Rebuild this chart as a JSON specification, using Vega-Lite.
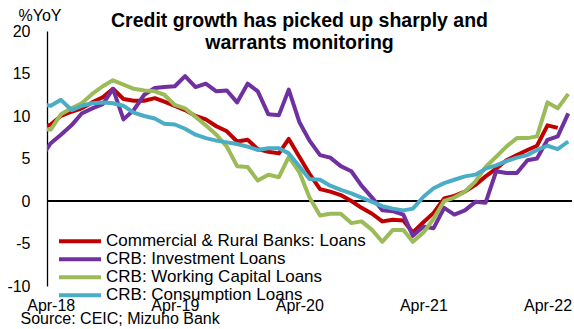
{
  "$schema": "https://vega.github.io/schema/vega-lite/v6.json",
  "width": 525,
  "height": 255,
  "autosize": {"type": "none"},
  "padding": {"left": 47, "top": 31, "right": 2, "bottom": 43},
  "background": "white",
  "config": {
    "font": "Liberation Sans",
    "view": {"stroke": null},
    "axis": {"labelColor": "black", "titleColor": "black", "grid": false}
  },
  "title": {
    "text": ["Credit growth has picked up sharply and", "warrants monitoring"],
    "font": "Liberation Sans",
    "fontSize": 19.5,
    "fontWeight": "bold",
    "color": "black",
    "anchor": "middle",
    "dx": -10,
    "lineHeight": 22,
    "offset": -46
  },
  "data": {
    "values": [
      {"date": "2018-03", "loans": 8.5, "investment": 5.0, "working": 8.4, "consumption": 11.4},
      {"date": "2018-04", "loans": 9.0, "investment": 6.8, "working": 8.4, "consumption": 11.2},
      {"date": "2018-05", "loans": 10.0, "investment": 7.8, "working": 10.2, "consumption": 11.9},
      {"date": "2018-06", "loans": 10.5, "investment": 8.9, "working": 10.9, "consumption": 10.7},
      {"date": "2018-07", "loans": 10.9, "investment": 10.3, "working": 11.5, "consumption": 11.2},
      {"date": "2018-08", "loans": 11.6, "investment": 10.9, "working": 12.6, "consumption": 11.5},
      {"date": "2018-09", "loans": 12.2, "investment": 11.4, "working": 13.5, "consumption": 11.6},
      {"date": "2018-10", "loans": 13.2, "investment": 13.2, "working": 14.2, "consumption": 11.5},
      {"date": "2018-11", "loans": 12.0, "investment": 9.6, "working": 13.7, "consumption": 11.2},
      {"date": "2018-12", "loans": 11.8, "investment": 10.7, "working": 13.2, "consumption": 10.4},
      {"date": "2019-01", "loans": 11.8, "investment": 12.5, "working": 13.0, "consumption": 10.0},
      {"date": "2019-02", "loans": 12.1, "investment": 13.3, "working": 12.9, "consumption": 9.7},
      {"date": "2019-03", "loans": 11.7, "investment": 13.4, "working": 12.5, "consumption": 9.1},
      {"date": "2019-04", "loans": 11.2, "investment": 13.5, "working": 11.3, "consumption": 9.0},
      {"date": "2019-05", "loans": 10.7, "investment": 14.7, "working": 10.9, "consumption": 8.5},
      {"date": "2019-06", "loans": 10.0, "investment": 13.4, "working": 9.9, "consumption": 7.8},
      {"date": "2019-07", "loans": 9.6, "investment": 13.8, "working": 8.9, "consumption": 7.4},
      {"date": "2019-08", "loans": 8.8, "investment": 12.9, "working": 7.8, "consumption": 7.1},
      {"date": "2019-09", "loans": 8.2, "investment": 13.0, "working": 6.4, "consumption": 6.9},
      {"date": "2019-10", "loans": 7.0, "investment": 11.6, "working": 4.1, "consumption": 6.7},
      {"date": "2019-11", "loans": 7.2, "investment": 13.8, "working": 4.0, "consumption": 6.4},
      {"date": "2019-12", "loans": 6.1, "investment": 12.9, "working": 2.4, "consumption": 6.0},
      {"date": "2020-01", "loans": 5.8, "investment": 10.2, "working": 3.1, "consumption": 6.2},
      {"date": "2020-02", "loans": 5.6, "investment": 10.1, "working": 2.8, "consumption": 6.2},
      {"date": "2020-03", "loans": 7.3, "investment": 13.1, "working": 5.2, "consumption": 5.6},
      {"date": "2020-04", "loans": 5.2, "investment": 9.3, "working": 3.4, "consumption": 4.1},
      {"date": "2020-05", "loans": 3.2, "investment": 7.1, "working": 0.4, "consumption": 2.6},
      {"date": "2020-06", "loans": 1.4, "investment": 5.4, "working": -1.7, "consumption": 2.5},
      {"date": "2020-07", "loans": 1.1, "investment": 5.1, "working": -1.5, "consumption": 1.8},
      {"date": "2020-08", "loans": 0.7, "investment": 4.1, "working": -1.5, "consumption": 1.3},
      {"date": "2020-09", "loans": 0.0, "investment": 3.5, "working": -2.6, "consumption": 0.9},
      {"date": "2020-10", "loans": -0.8, "investment": 1.8, "working": -2.4, "consumption": 0.4},
      {"date": "2020-11", "loans": -1.5, "investment": 0.4, "working": -3.4, "consumption": -0.1},
      {"date": "2020-12", "loans": -2.4, "investment": -1.1, "working": -4.8, "consumption": -0.6},
      {"date": "2021-01", "loans": -2.2, "investment": -1.2, "working": -3.4, "consumption": -0.9},
      {"date": "2021-02", "loans": -2.3, "investment": -1.6, "working": -3.4, "consumption": -1.1},
      {"date": "2021-03", "loans": -3.7, "investment": -4.1, "working": -4.8, "consumption": -0.9},
      {"date": "2021-04", "loans": -2.5, "investment": -3.0, "working": -3.7, "consumption": 0.5},
      {"date": "2021-05", "loans": -1.4, "investment": -3.2, "working": -2.1, "consumption": 1.5},
      {"date": "2021-06", "loans": 0.3, "investment": -0.8, "working": 0.0, "consumption": 2.1},
      {"date": "2021-07", "loans": 0.6, "investment": -1.6, "working": 0.4, "consumption": 2.5},
      {"date": "2021-08", "loans": 1.1, "investment": -1.1, "working": 1.1, "consumption": 2.9},
      {"date": "2021-09", "loans": 1.9, "investment": -0.1, "working": 2.3, "consumption": 3.1},
      {"date": "2021-10", "loans": 2.9, "investment": -0.2, "working": 4.0, "consumption": 3.8},
      {"date": "2021-11", "loans": 3.8, "investment": 3.5, "working": 5.2, "consumption": 4.2},
      {"date": "2021-12", "loans": 4.8, "investment": 3.3, "working": 6.4, "consumption": 4.7},
      {"date": "2022-01", "loans": 5.4, "investment": 3.3, "working": 7.4, "consumption": 5.1},
      {"date": "2022-02", "loans": 6.0, "investment": 4.8, "working": 7.4, "consumption": 5.4},
      {"date": "2022-03", "loans": 6.5, "investment": 5.0, "working": 7.6, "consumption": 6.0},
      {"date": "2022-04", "loans": 8.9, "investment": 7.2, "working": 11.6, "consumption": 6.5},
      {"date": "2022-05", "loans": 8.6, "investment": 7.6, "working": 10.9, "consumption": 6.1},
      {"date": "2022-06", "loans": null, "investment": 10.3, "working": 12.6, "consumption": 7.0}
    ],
    "format": {"parse": {"date": "date:'%Y-%m'"}}
  },
  "layer": [
    {
      "mark": {"type": "rule", "color": "black", "strokeWidth": 1.3},
      "encoding": {"y": {"datum": 0, "type": "quantitative"}}
    },
    {
      "transform": [
        {"fold": ["loans", "investment", "working", "consumption"], "as": ["series", "value"]}
      ],
      "mark": {"type": "line", "strokeWidth": 4, "clip": true, "strokeJoin": "round", "strokeCap": "butt"},
      "encoding": {
        "x": {
          "field": "date",
          "type": "temporal",
          "scale": {"domain": [{"year": 2018, "month": 3, "date": 21}, {"year": 2022, "month": 6, "date": 12}]},
          "axis": {
            "values": [
              {"year": 2018, "month": 4, "date": 1},
              {"year": 2019, "month": 4, "date": 1},
              {"year": 2020, "month": 4, "date": 1},
              {"year": 2021, "month": 4, "date": 1},
              {"year": 2022, "month": 4, "date": 1}
            ],
            "format": "%b-%y",
            "formatType": "time",
            "domain": false,
            "ticks": false,
            "tickSize": 0,
            "labelPadding": 11,
            "labelFontSize": 16,
            "labelFont": "Liberation Sans",
            "labelAlign": "center",
            "labelFlush": false,
            "labelOverlap": false,
            "title": "Source: CEIC; Mizuho Bank",
            "titleFont": "Liberation Sans",
            "titleFontSize": 16,
            "titleFontWeight": "normal",
            "titleAnchor": "start",
            "titleAlign": "left",
            "titleBaseline": "alphabetic",
            "titleX": -27,
            "titleY": 37
          }
        },
        "y": {
          "field": "value",
          "type": "quantitative",
          "scale": {"domain": [-10, 20], "nice": false, "zero": false},
          "axis": {
            "values": [-10, -5, 0, 5, 10, 15, 20],
            "labelExpr": "'' + datum.value",
            "domain": true,
            "domainColor": "black",
            "domainWidth": 1.3,
            "ticks": false,
            "tickSize": 0,
            "labelPadding": 17,
            "labelFontSize": 16,
            "labelFont": "Liberation Sans",
            "title": "%YoY",
            "titleFont": "Liberation Sans",
            "titleFontSize": 16,
            "titleFontWeight": "normal",
            "titleAngle": 0,
            "titleAlign": "left",
            "titleBaseline": "middle",
            "titleX": -29,
            "titleY": -16
          }
        },
        "color": {
          "field": "series",
          "type": "nominal",
          "scale": {
            "domain": ["loans", "investment", "working", "consumption"],
            "range": ["#C00000", "#7030A0", "#9BBB59", "#4BACC6"]
          },
          "legend": {
            "orient": "none",
            "legendX": 10,
            "legendY": 202,
            "title": null,
            "padding": 0,
            "symbolType": "stroke",
            "symbolSize": 1764,
            "symbolStrokeWidth": 4,
            "symbolOpacity": 1,
            "clipHeight": 16.5,
            "rowPadding": 0,
            "labelOffset": 3,
            "labelFont": "Liberation Sans",
            "labelFontSize": 17,
            "labelColor": "black",
            "labelLimit": 400,
            "labelExpr": "{'loans': 'Commercial & Rural Banks: Loans', 'investment': 'CRB: Investment Loans', 'working': 'CRB: Working Capital Loans', 'consumption': 'CRB: Consumption Loans'}[datum.label]"
          }
        }
      }
    }
  ]
}
